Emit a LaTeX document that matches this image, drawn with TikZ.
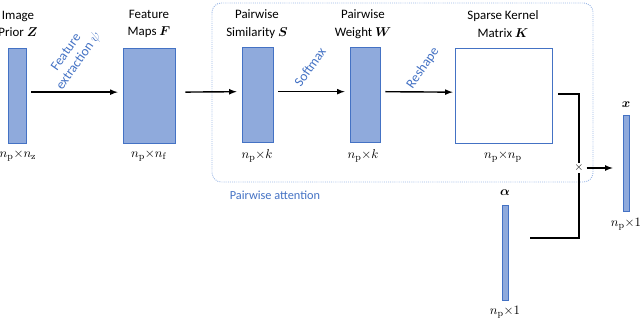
\documentclass[tikz,border=0pt]{standalone}
\usepackage[no-math]{fontspec}
\setmainfont{Carlito}
\usepackage{amsmath, bm}
\usepackage{xcolor}
\usepackage{tikz}
\usetikzlibrary{calc, positioning}
\definecolor{vecfill}{HTML}{8FAADC}
\definecolor{vecline}{HTML}{4472C4}
\definecolor{boxline}{HTML}{9DB9E6}

\begin{document}
\begin{tikzpicture}[x=0.03cm, y=-0.03cm, >=latex,
    vec/.style={draw=vecline, fill=vecfill, line width=0.6pt, inner sep=0pt, minimum height=2.85cm},
    ttl/.style={align=center, font=\fontsize{11}{15}\selectfont},
    dim/.style={font=\fontsize{11}{13}\selectfont},
    arr/.style={->, line width=1.2pt, shorten <=0.15cm, shorten >=0.15cm},
    wire/.style={line width=1.2pt},
    op/.style={text=vecline, rotate=55, align=center, font=\fontsize{11.5}{13}\selectfont}]
    \useasboundingbox (0,0) rectangle (640,319);

    % 1. Khung chú ý theo cặp
    \draw[boxline, densely dotted, line width=0.8pt, rounded corners=8pt] (212,3) rectangle (593,182);
    \node[text=vecline, font=\fontsize{10.5}{12}\selectfont] (att) at (275,195) {Pairwise attention};

    % 2. Các khối dữ liệu
    \node[vec, minimum width=0.54cm] (Z) at (17,95.5) {};
    \node[vec, minimum width=1.56cm] (F) at (149,95.5) {};
    \node[vec, minimum width=0.93cm] (S) at (257.5,95) {};
    \node[vec, minimum width=0.9cm] (W) at (365,95) {};
    \node[draw=vecline, fill=white, line width=0.6pt, inner sep=0pt,
          minimum width=2.91cm, minimum height=2.85cm] (K) at (503.5,95.5) {};
    \node[vec, minimum width=0.18cm, minimum height=2.88cm] (x) at (626,163) {};
    \node[vec, minimum width=0.18cm] (a) at (505,252.5) {};

    % 3. Tiêu đề các khối
    \node[ttl] (tZ) at (18,24) {Image\\Prior $\bm{Z}$};
    \node[ttl] (tF) at (149,24) {Feature\\Maps $\bm{F}$};
    \node[ttl] (tS) at (257,24) {Pairwise\\Similarity $\bm{S}$};
    \node[ttl] (tW) at (363,24) {Pairwise\\Weight $\bm{W}$};
    \node[ttl] (tK) at (503,24) {Sparse Kernel\\Matrix $\bm{K}$};
    \node[ttl] (tx) at (626,105) {$\bm{x}$};
    \node[ttl] (ta) at (505,193) {$\bm{\alpha}$};

    % 4. Kích thước
    \node[dim] (dZ) at (18,156) {$n_\mathrm{p}{\times}n_\mathrm{z}$};
    \node[dim] (dF) at (149,156) {$n_\mathrm{p}{\times}n_\mathrm{f}$};
    \node[dim] (dS) at (257,156) {$n_\mathrm{p}{\times}k$};
    \node[dim] (dW) at (363,156) {$n_\mathrm{p}{\times}k$};
    \node[dim] (dK) at (503,157) {$n_\mathrm{p}{\times}n_\mathrm{p}$};
    \node[dim] (dx) at (626,224) {$n_\mathrm{p}{\times}1$};
    \node[dim] (da) at (505,312) {$n_\mathrm{p}{\times}1$};

    % 5. Mũi tên và phép toán
    \draw[arr] ([yshift=0.1cm]Z.east) -- ([yshift=0.1cm]F.west);
    \draw[arr, shorten <=0.3cm] ([yshift=0.1cm]F.east) -- ([yshift=0.1cm]S.west);
    \draw[arr] ([yshift=0.1cm]S.east) -- ([yshift=0.1cm]W.west);
    \draw[arr, shorten >=0.06cm] ([yshift=0.1cm]W.east) -- ([yshift=0.1cm]K.west);
    \node[op] (psi) at (73,57) {Feature\\extraction $\psi$};
    \node[op] (smax) at (310,67) {Softmax};
    \node[op] (rshp) at (423,68) {Reshape};

    \node[inner sep=1pt] (mul) at (579,168) {$\times$};
    \coordinate (aout) at (530,238);
    \draw[wire, shorten <=0.18cm] ([yshift=0.05cm]K.east) -| (mul.north);
    \draw[wire] (aout) -| (mul.south);
    \draw[arr, shorten <=0.05cm, shorten >=0.3cm] (mul.east) -- (x.west |- mul.east);
\end{tikzpicture}
\end{document}
